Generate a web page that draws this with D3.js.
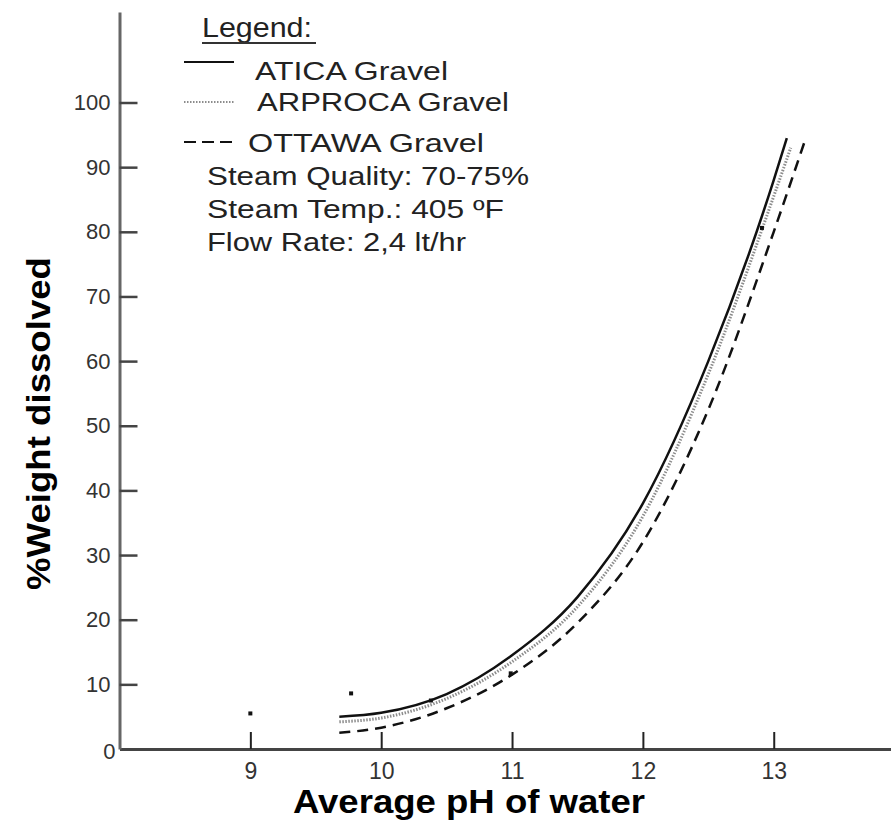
<!DOCTYPE html>
<html><head><meta charset="utf-8">
<script src="https://cdn.jsdelivr.net/npm/d3@7"></script>
<style>body{margin:0;background:#fff}svg{display:block}</style>
</head><body>
<svg id="chart" width="891" height="825"></svg>
<script>
// ---- data ----
const phGrid = [9.68, 10.0, 10.5, 11.0, 11.5, 12.0, 12.5, 13.0];
const aticaPH = [...phGrid, 13.10];
const aticaVal = [5.0, 5.6, 8.5, 14.5, 23.5, 38.0, 60.0, 88.0, 94.5];
const arprocaPH = [...phGrid, 13.13];
const arprocaVal = [4.2, 4.8, 7.8, 13.5, 22.0, 36.0, 58.0, 85.5, 93.0];
const ottawaPH = [...phGrid, 13.24];
const ottawaVal = [2.5, 3.3, 6.3, 11.5, 19.5, 32.0, 52.5, 80.0, 94.2];
const pointPH = [9.0, 9.77, 10.38, 10.99, 12.91];
const pointVal = [5.5, 8.6, 7.5, 11.7, 80.6];
const xTicks = [9, 10, 11, 12, 13];
const yTicks = [0, 10, 20, 30, 40, 50, 60, 70, 80, 90, 100];
const legendNames = ["ATICA Gravel", "ARPROCA Gravel", "OTTAWA Gravel"];
const notes = ["Steam Quality: 70-75%", "Steam Temp.: 405 \u00BAF", "Flow Rate: 2,4 lt/hr"];

const FONT = "'Liberation Sans', Arial, sans-serif";
const svg = d3.select("#chart");
const x = d3.scaleLinear().domain([8, 13.9]).range([119.5, 891.5]);
const y = d3.scaleLinear().domain([0, 114]).range([749, 12]);

// axes
const xAxis = svg.append("g").attr("transform", `translate(0,${y(0)})`)
  .call(d3.axisBottom(x).tickValues(xTicks).tickSizeInner(-17).tickSizeOuter(0).tickPadding(14).tickFormat(d3.format("d")));
xAxis.select(".domain").attr("stroke", "#444").attr("stroke-width", 3);
xAxis.selectAll(".tick line").attr("stroke", "#222").attr("stroke-width", 2);
xAxis.selectAll(".tick text").attr("font-family", FONT).attr("font-size", 23).attr("fill", "#333");

const yAxis = svg.append("g").attr("transform", `translate(${x(8)},0)`)
  .call(d3.axisLeft(y).tickValues(yTicks).tickSizeInner(-18).tickSizeOuter(0).tickPadding(9));
yAxis.select(".domain").attr("stroke", "#666").attr("stroke-width", 3);
yAxis.selectAll(".tick line").attr("stroke", "#444").attr("stroke-width", 2.5);
yAxis.selectAll(".tick text").attr("font-family", FONT).attr("font-size", 22).attr("fill", "#333");
yAxis.selectAll(".tick").filter(d => d === 0).select("text").attr("x", -4).attr("dy", "0.45em");
yAxis.selectAll(".tick").filter(d => d === 0).select("line").remove();

// axis titles
svg.append("text").attr("x", 293).attr("y", 813).attr("font-family", FONT)
  .attr("font-weight", "bold").attr("font-size", 33).attr("fill", "#000")
  .attr("textLength", 352).attr("lengthAdjust", "spacingAndGlyphs").text("Average pH of water");
svg.append("text").attr("transform", "translate(50,590) rotate(-90)").attr("font-family", FONT)
  .attr("font-weight", "bold").attr("font-size", 33).attr("fill", "#000")
  .attr("textLength", 333).attr("lengthAdjust", "spacingAndGlyphs").text("%Weight dissolved");

// curves
const line = d3.line().x(d => x(d[0])).y(d => y(d[1])).curve(d3.curveMonotoneX);
const styles = [
  {stroke: "#111", width: 2.5, dash: null},
  {stroke: "#8c8c8c", width: 3, dash: "1.5,1.5"},
  {stroke: "#111", width: 2.5, dash: "11,7"}
];
const series = [
  d3.zip(aticaPH, aticaVal),
  d3.zip(arprocaPH, arprocaVal),
  d3.zip(ottawaPH, ottawaVal)
];
[2, 1, 0].forEach(i => {
  svg.append("path").datum(series[i]).attr("d", line).attr("fill", "none")
    .attr("stroke", styles[i].stroke).attr("stroke-width", styles[i].width)
    .attr("stroke-dasharray", styles[i].dash);
});

// points
svg.selectAll("rect.pt").data(d3.zip(pointPH, pointVal)).enter().append("rect")
  .attr("class", "pt").attr("x", d => x(d[0]) - 2).attr("y", d => y(d[1]) - 2)
  .attr("width", 4).attr("height", 4).attr("fill", "#111");

// legend
const lg = svg.append("g").attr("font-family", FONT).attr("fill", "#222");
lg.append("text").attr("x", 202).attr("y", 37).attr("font-size", 27)
  .attr("textLength", 110).attr("lengthAdjust", "spacingAndGlyphs").text("Legend:");
lg.append("line").attr("x1", 202).attr("x2", 316).attr("y1", 43).attr("y2", 43)
  .attr("stroke", "#333").attr("stroke-width", 2);
const sampleY = [62, 102, 142];
const textX = [255, 257, 248];
const textY = [80, 111, 152];
const textW = [193, 252, 236];
legendNames.forEach((n, i) => {
  lg.append("line").attr("x1", 184).attr("x2", 234).attr("y1", sampleY[i]).attr("y2", sampleY[i])
    .attr("stroke", styles[i].stroke).attr("stroke-width", i === 1 ? 2 : 2)
    .attr("stroke-dasharray", i === 2 ? "12,6" : styles[i].dash);
  lg.append("text").attr("x", textX[i]).attr("y", textY[i]).attr("font-size", 26)
    .attr("textLength", textW[i]).attr("lengthAdjust", "spacingAndGlyphs").text(n);
});
const noteY = [185, 218, 251];
const noteW = [322, 297, 259];
notes.forEach((n, i) => {
  lg.append("text").attr("x", 207).attr("y", noteY[i]).attr("font-size", 26)
    .attr("textLength", noteW[i]).attr("lengthAdjust", "spacingAndGlyphs").text(n);
});
</script>
</body></html>
